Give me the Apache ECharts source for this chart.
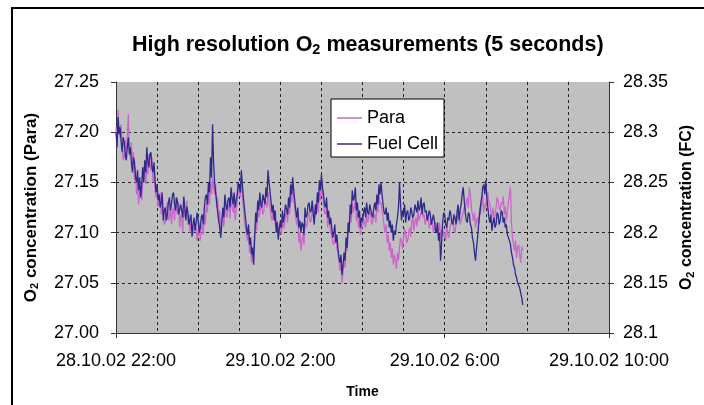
<!DOCTYPE html>
<html>
<head>
<meta charset="utf-8">
<script src="https://cdn.jsdelivr.net/npm/echarts@6/dist/echarts.min.js"></script>
<style>
html, body { margin: 0; padding: 0; background: #fff; }
#main { width: 704px; height: 405px; }
</style>
</head>
<body>
<div id="main"></div>
<script>
// readings every 1.5 minutes, starting 28.10.02 22:00
var stepMinutes = 1.5;
var timeLabels = ['28.10.02 22:00', '29.10.02 2:00', '29.10.02 6:00', '29.10.02 10:00'];

var para = [
    27.205, 27.190, 27.222, 27.200, 27.195, 27.208, 27.188, 27.172, 27.175, 27.192, 27.182, 27.196, 27.218, 27.185, 27.176, 27.190, 27.168, 27.180, 27.152, 27.165,
    27.138, 27.150, 27.128, 27.140, 27.145, 27.132, 27.150, 27.165, 27.160, 27.148, 27.170, 27.158, 27.178, 27.168, 27.162, 27.175, 27.150, 27.160, 27.142, 27.135,
    27.140, 27.126, 27.128, 27.140, 27.118, 27.130, 27.122, 27.108, 27.110, 27.124, 27.130, 27.112, 27.115, 27.128, 27.108, 27.120, 27.125, 27.112, 27.135, 27.122,
    27.118, 27.130, 27.105, 27.118, 27.112, 27.100, 27.128, 27.115, 27.120, 27.132, 27.108, 27.118, 27.100, 27.112, 27.112, 27.098, 27.098, 27.110, 27.104, 27.092,
    27.100, 27.110, 27.092, 27.104, 27.108, 27.098, 27.118, 27.108, 27.130, 27.120, 27.140, 27.128, 27.150, 27.138, 27.155, 27.145, 27.138, 27.148, 27.125, 27.135,
    27.110, 27.122, 27.102, 27.115, 27.118, 27.106, 27.130, 27.118, 27.115, 27.126, 27.128, 27.114, 27.138, 27.126, 27.120, 27.132, 27.112, 27.124, 27.130, 27.140,
    27.145, 27.135, 27.150, 27.138, 27.125, 27.112, 27.105, 27.098, 27.092, 27.100, 27.080, 27.088, 27.070, 27.078, 27.085, 27.098, 27.110, 27.102, 27.125, 27.115,
    27.118, 27.130, 27.130, 27.118, 27.122, 27.134, 27.135, 27.125, 27.140, 27.130, 27.125, 27.115, 27.112, 27.124, 27.120, 27.108, 27.105, 27.112, 27.095, 27.102,
    27.105, 27.098, 27.115, 27.104, 27.108, 27.118, 27.120, 27.110, 27.128, 27.118, 27.140, 27.130, 27.145, 27.135, 27.125, 27.115, 27.108, 27.118, 27.090, 27.100,
    27.082, 27.092, 27.098, 27.088, 27.115, 27.105, 27.108, 27.118, 27.120, 27.110, 27.112, 27.122, 27.125, 27.114, 27.118, 27.128, 27.130, 27.120, 27.140, 27.132,
    27.148, 27.138, 27.130, 27.120, 27.118, 27.128, 27.105, 27.115, 27.110, 27.100, 27.098, 27.090, 27.088, 27.098, 27.095, 27.085, 27.080, 27.072, 27.062, 27.070,
    27.050, 27.060, 27.075, 27.065, 27.090, 27.082, 27.100, 27.110, 27.120, 27.110, 27.130, 27.120, 27.125, 27.135, 27.112, 27.120, 27.105, 27.112, 27.098, 27.108,
    27.105, 27.114, 27.115, 27.105, 27.120, 27.110, 27.110, 27.120, 27.118, 27.108, 27.108, 27.116, 27.118, 27.110, 27.130, 27.120, 27.138, 27.128, 27.130, 27.122,
    27.115, 27.106, 27.100, 27.108, 27.090, 27.098, 27.082, 27.090, 27.075, 27.084, 27.068, 27.078, 27.072, 27.064, 27.080, 27.072, 27.085, 27.095, 27.092, 27.084,
    27.095, 27.104, 27.100, 27.090, 27.092, 27.100, 27.105, 27.096, 27.110, 27.118, 27.102, 27.110, 27.115, 27.106, 27.122, 27.112, 27.112, 27.120, 27.125, 27.115,
    27.118, 27.108, 27.108, 27.118, 27.115, 27.104, 27.105, 27.114, 27.110, 27.100, 27.100, 27.110, 27.108, 27.098, 27.102, 27.110, 27.095, 27.102, 27.105, 27.096,
    27.100, 27.092, 27.108, 27.098, 27.095, 27.104, 27.105, 27.114, 27.112, 27.102, 27.100, 27.108, 27.110, 27.120, 27.118, 27.108, 27.108, 27.116, 27.115, 27.125,
    27.122, 27.130, 27.135, 27.125, 27.145, 27.138, 27.125, 27.118, 27.112, 27.120, 27.105, 27.112, 27.115, 27.108, 27.125, 27.118, 27.130, 27.138, 27.120, 27.128,
    27.125, 27.135, 27.140, 27.130, 27.128, 27.120, 27.118, 27.125, 27.110, 27.118, 27.125, 27.135, 27.132, 27.124, 27.122, 27.130, 27.128, 27.136, 27.118, 27.126,
    27.112, 27.122, 27.130, 27.138, 27.145, 27.110, 27.095, 27.088, 27.082, 27.092, 27.075, 27.085, 27.088, 27.078, 27.070, 27.086, 27.082
];

var fuelCell = [
    28.300, 28.285, 28.315, 28.298, 28.305, 28.290, 28.280, 28.295, 28.290, 28.278, 28.272, 28.285, 28.295, 28.278, 28.285, 28.270, 28.260, 28.275, 28.270, 28.255,
    28.250, 28.262, 28.242, 28.255, 28.235, 28.248, 28.265, 28.250, 28.272, 28.260, 28.285, 28.270, 28.265, 28.278, 28.280, 28.266, 28.260, 28.270, 28.252, 28.240,
    28.248, 28.232, 28.238, 28.225, 28.230, 28.240, 28.212, 28.222, 28.225, 28.212, 28.218, 28.230, 28.235, 28.222, 28.228, 28.238, 28.240, 28.228, 28.222, 28.235,
    28.230, 28.218, 28.218, 28.228, 28.228, 28.215, 28.236, 28.225, 28.212, 28.226, 28.220, 28.208, 28.208, 28.218, 28.196, 28.208, 28.215, 28.202, 28.210, 28.220,
    28.212, 28.200, 28.205, 28.215, 28.218, 28.208, 28.225, 28.235, 28.238, 28.228, 28.250, 28.240, 28.275, 28.255, 28.308, 28.270, 28.250, 28.240, 28.230, 28.220,
    28.212, 28.205, 28.195, 28.210, 28.225, 28.215, 28.238, 28.228, 28.222, 28.232, 28.235, 28.225, 28.245, 28.235, 28.228, 28.240, 28.225, 28.232, 28.238, 28.250,
    28.250, 28.240, 28.262, 28.248, 28.235, 28.225, 28.215, 28.205, 28.198, 28.208, 28.188, 28.195, 28.178, 28.185, 28.168, 28.195, 28.220, 28.210, 28.232, 28.222,
    28.240, 28.228, 28.225, 28.238, 28.238, 28.228, 28.245, 28.235, 28.262, 28.250, 28.240, 28.230, 28.220, 28.228, 28.212, 28.222, 28.200, 28.210, 28.193, 28.205,
    28.212, 28.205, 28.222, 28.210, 28.218, 28.228, 28.228, 28.218, 28.235, 28.225, 28.248, 28.238, 28.255, 28.242, 28.232, 28.222, 28.215, 28.225, 28.205, 28.212,
    28.200, 28.210, 28.208, 28.198, 28.225, 28.215, 28.218, 28.228, 28.230, 28.220, 28.222, 28.232, 28.218, 28.208, 28.228, 28.218, 28.240, 28.230, 28.252, 28.242,
    28.258, 28.245, 28.238, 28.228, 28.225, 28.235, 28.215, 28.222, 28.208, 28.215, 28.205, 28.195, 28.200, 28.208, 28.190, 28.198, 28.185, 28.175, 28.170, 28.178,
    28.158, 28.168, 28.180, 28.172, 28.195, 28.185, 28.210, 28.200, 28.228, 28.218, 28.242, 28.232, 28.235, 28.245, 28.222, 28.230, 28.215, 28.222, 28.205, 28.215,
    28.212, 28.220, 28.225, 28.215, 28.230, 28.220, 28.218, 28.228, 28.228, 28.218, 28.215, 28.225, 28.230, 28.222, 28.238, 28.228, 28.248, 28.238, 28.250, 28.238,
    28.228, 28.220, 28.218, 28.225, 28.212, 28.220, 28.205, 28.212, 28.200, 28.208, 28.192, 28.202, 28.198, 28.208, 28.215, 28.225, 28.250, 28.228, 28.212, 28.222,
    28.218, 28.228, 28.210, 28.220, 28.222, 28.212, 28.215, 28.225, 28.225, 28.215, 28.218, 28.228, 28.228, 28.220, 28.232, 28.222, 28.225, 28.235, 28.218, 28.228,
    28.230, 28.220, 28.222, 28.212, 28.212, 28.222, 28.218, 28.208, 28.208, 28.218, 28.212, 28.202, 28.200, 28.210, 28.192, 28.200, 28.172, 28.190, 28.210, 28.220,
    28.218, 28.208, 28.205, 28.215, 28.212, 28.222, 28.218, 28.210, 28.208, 28.218, 28.215, 28.208, 28.220, 28.228, 28.212, 28.222, 28.228, 28.238, 28.245, 28.232,
    28.220, 28.212, 28.210, 28.220, 28.218, 28.208, 28.205, 28.195, 28.190, 28.180, 28.172, 28.185, 28.195, 28.208, 28.218, 28.228, 28.235, 28.245, 28.248, 28.238,
    28.252, 28.235, 28.225, 28.215, 28.210, 28.218, 28.202, 28.210, 28.215, 28.205, 28.208, 28.220, 28.218, 28.208, 28.212, 28.222, 28.220, 28.210, 28.215, 28.205,
    28.208, 28.198, 28.198, 28.192, 28.188, 28.180, 28.175, 28.168, 28.165, 28.158, 28.155, 28.150, 28.150, 28.145, 28.140, 28.135, 28.128
];

function toPoints(values) {
    return values.map(function (v, i) { return [i * stepMinutes / 60, v]; });
}

var font = 'Liberation Sans, Arial, sans-serif';
var gridLine = { color: '#222', type: [3, 3], width: 1 };
var chart = echarts.init(document.getElementById('main'));

var option = {
    backgroundColor: '#fff',
    textStyle: { fontFamily: font },
    animation: false,
    graphic: [{
        type: 'rect',
        shape: { x: 12, y: 8, width: 800, height: 500 },
        style: { fill: 'none', stroke: '#000', lineWidth: 2 }
    }],
    title: {
        text: '{a|High resolution O}{s|2}{a| measurements (5 seconds)}',
        left: 127,
        top: 28,
        textStyle: {
            rich: {
                a: { fontSize: 21.5, fontWeight: 'bold', color: '#000', fontFamily: font },
                s: { fontSize: 14.5, fontWeight: 'bold', color: '#000', fontFamily: font, padding: [9, 0, 0, 0] }
            }
        }
    },
    legend: {
        left: 331,
        top: 99,
        orient: 'vertical',
        padding: [10, 6, 4, 6],
        icon: 'rect',
        itemWidth: 25,
        itemHeight: 1.5,
        itemGap: 8,
        backgroundColor: '#fff',
        borderColor: '#000',
        borderWidth: 1,
        textStyle: { fontSize: 18, color: '#000', fontFamily: font, lineHeight: 18 },
        data: ['Para', 'Fuel Cell']
    },
    grid: { left: 116, right: 93, top: 82, bottom: 72, show: true, backgroundColor: '#c0c0c0', borderWidth: 0 },
    xAxis: {
        type: 'value',
        min: 0,
        max: 12,
        interval: 4,
        name: 'Time',
        nameLocation: 'middle',
        nameGap: 52,
        nameTextStyle: { fontSize: 14, fontWeight: 'bold', color: '#000' },
        axisLine: { lineStyle: { color: '#333', width: 1 } },
        axisTick: { length: 5, lineStyle: { color: '#333' } },
        minorTick: { show: false, splitNumber: 4 },
        minorSplitLine: { show: true, lineStyle: gridLine },
        splitLine: { show: true, showMinLine: false, showMaxLine: false, lineStyle: gridLine },
        axisLabel: {
            fontSize: 18,
            color: '#000',
            margin: 19,
            formatter: function (v) { return timeLabels[Math.round(v / 4)]; }
        }
    },
    yAxis: [{
        type: 'value',
        min: 27,
        max: 27.25,
        interval: 0.05,
        name: '{a|O}{s|2}{a| concentration (Para)}',
        nameLocation: 'middle',
        nameGap: 76,
        nameTextStyle: {
            rich: {
                a: { fontSize: 17, fontWeight: 'bold', color: '#000', fontFamily: font },
                s: { fontSize: 11, fontWeight: 'bold', color: '#000', fontFamily: font, padding: [7, 0, 0, 0] }
            }
        },
        axisLine: { show: true, lineStyle: { color: '#333', width: 1 } },
        axisTick: { show: true, length: 5, lineStyle: { color: '#333' } },
        splitLine: { show: true, showMaxLine: false, showMinLine: false, lineStyle: gridLine },
        axisLabel: {
            fontSize: 18,
            color: '#000',
            margin: 17,
            formatter: function (v) { return v.toFixed(2); }
        }
    }, {
        type: 'value',
        position: 'right',
        min: 28.1,
        max: 28.35,
        interval: 0.05,
        name: '{a|O}{s|2}{a| concentration (FC)}',
        nameLocation: 'middle',
        nameGap: 66,
        nameTextStyle: {
            rich: {
                a: { fontSize: 16, fontWeight: 'bold', color: '#000', fontFamily: font },
                s: { fontSize: 11, fontWeight: 'bold', color: '#000', fontFamily: font, padding: [7, 0, 0, 0] }
            }
        },
        axisLine: { show: true, lineStyle: { color: '#333', width: 1 } },
        axisTick: { show: true, length: 5, lineStyle: { color: '#333' } },
        splitLine: { show: false },
        axisLabel: { fontSize: 18, color: '#000', margin: 14 }
    }],
    series: [{
        name: 'Para',
        type: 'line',
        yAxisIndex: 0,
        symbol: 'none',
        color: '#cc66cc',
        lineStyle: { width: 1.3 },
        data: toPoints(para)
    }, {
        name: 'Fuel Cell',
        type: 'line',
        yAxisIndex: 1,
        symbol: 'none',
        color: '#2e2a8c',
        lineStyle: { width: 1.3 },
        data: toPoints(fuelCell)
    }]
};

chart.setOption(option);
</script>
</body>
</html>
